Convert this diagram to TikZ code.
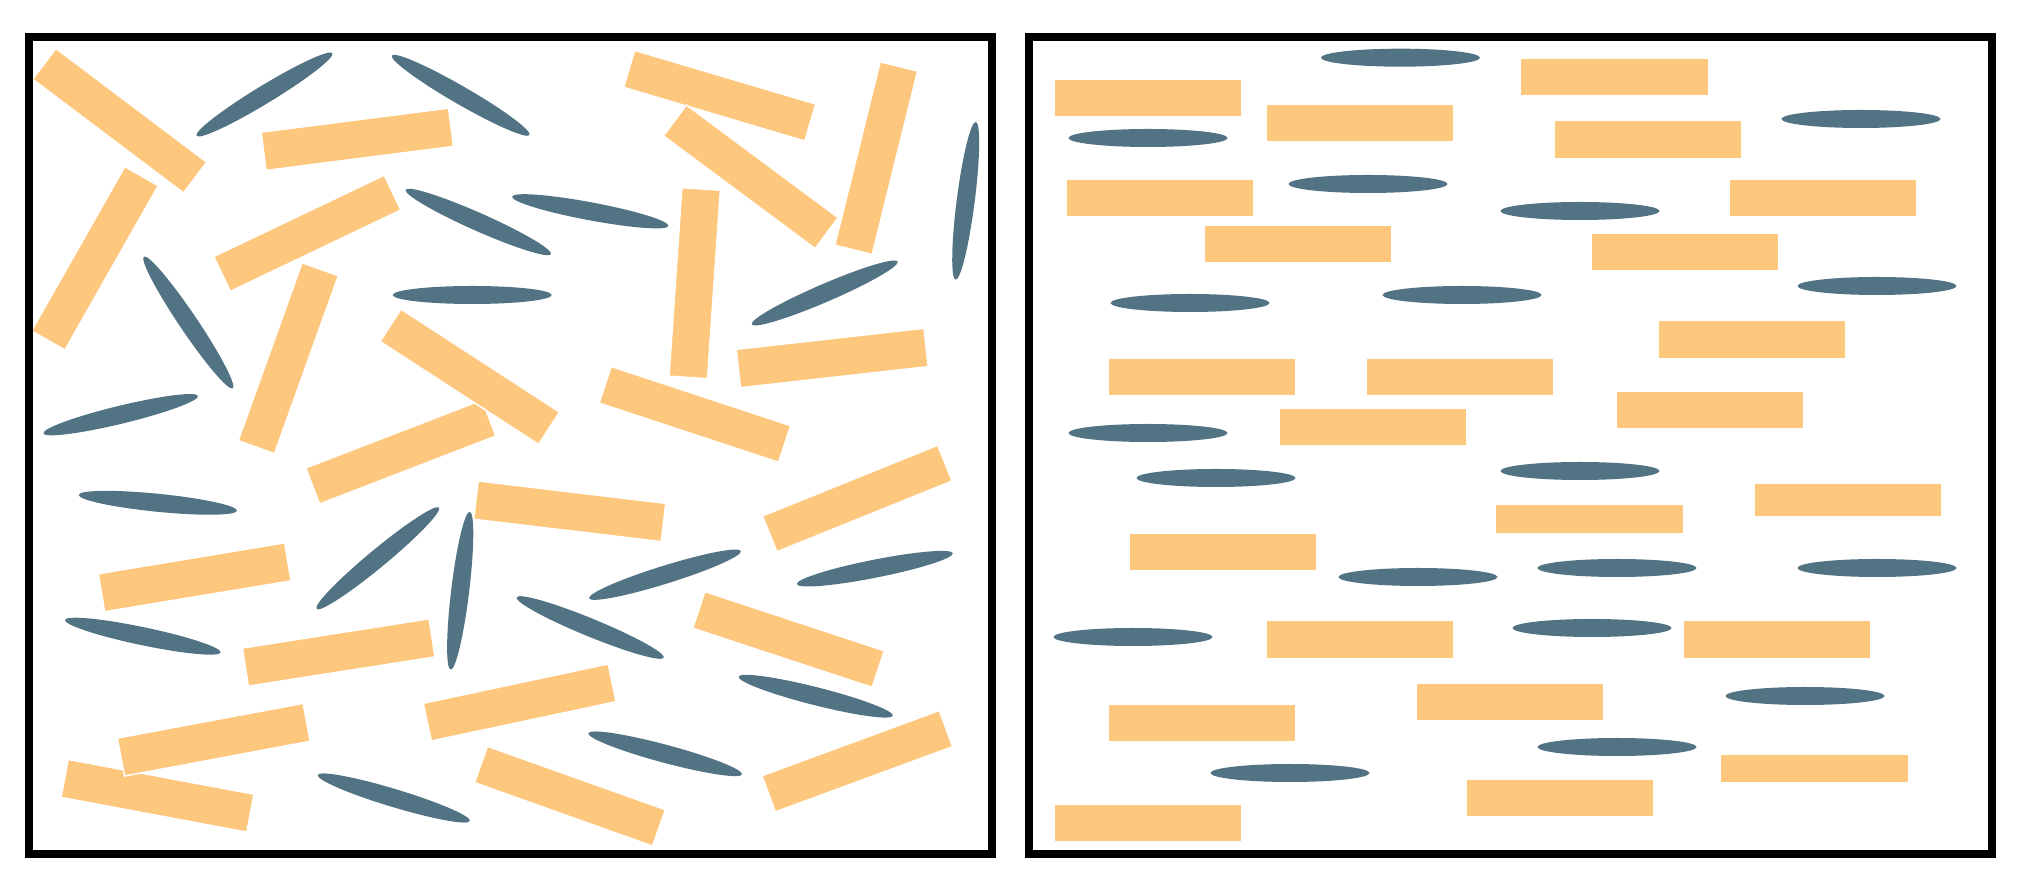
\documentclass[tikz,border=0pt]{standalone}
\usepackage{tikz}

\definecolor{barorange}{RGB}{254,199,126}
\definecolor{rodblue}{RGB}{81,115,132}

\tikzset{
  bar/.style={fill=barorange, draw=white, line width=0.015cm},
  rod/.style={fill=rodblue},
  frame/.style={draw=black, line width=0.08cm}
}

\begin{document}
\begin{tikzpicture}[x=0.01cm,y=-0.01cm]
    \useasboundingbox (0,0) rectangle (2021,883);

    % left box: random orientation
    \fill[bar, shift={(119.7,120.7)}, rotate=-37] (-94.5,-19.3) rectangle (94.5,19.3);
    \fill[bar, shift={(94.9,258.3)}, rotate=60.4] (-94.5,-19.3) rectangle (94.5,19.3);
    \fill[bar, shift={(357.3,139.3)}, rotate=7.3] (-94.5,-19.3) rectangle (94.5,19.3);
    \fill[bar, shift={(307.3,233.3)}, rotate=25.5] (-94.5,-19.3) rectangle (94.5,19.3);
    \fill[bar, shift={(288.3,358.2)}, rotate=70.25] (-94.5,-19.3) rectangle (94.5,19.3);
    \fill[bar, shift={(400.8,452)}, rotate=21.1] (-94.5,-19.3) rectangle (94.5,19.3);
    \fill[bar, shift={(469.8,376.8)}, rotate=-33] (-94.5,-19.3) rectangle (94.5,19.3);
    \fill[bar, shift={(719.7,95.7)}, rotate=-16.5] (-94.5,-19.3) rectangle (94.5,19.3);
    \fill[bar, shift={(750.8,176.8)}, rotate=-36.6] (-94.5,-19.3) rectangle (94.5,19.3);
    \fill[bar, shift={(876.2,158.2)}, rotate=76.1] (-94.5,-19.3) rectangle (94.5,19.3);
    \fill[bar, shift={(694.7,283.2)}, rotate=86.1] (-94.5,-19.3) rectangle (94.5,19.3);
    \fill[bar, shift={(832.2,358)}, rotate=6.4] (-94.5,-19.3) rectangle (94.5,19.3);
    \fill[bar, shift={(694.9,414.4)}, rotate=-18.25] (-94.5,-19.3) rectangle (94.5,19.3);
    \fill[bar, shift={(194.7,577.3)}, rotate=9.4] (-94.5,-19.3) rectangle (94.5,19.3);
    \fill[bar, shift={(569.7,511.3)}, rotate=-6.8] (-94.5,-19.3) rectangle (94.5,19.3);
    \fill[bar, shift={(338.7,652.5)}, rotate=8.9] (-94.5,-19.3) rectangle (94.5,19.3);
    \fill[bar, shift={(157.5,795.8)}, rotate=-10.6] (-94.5,-19.3) rectangle (94.5,19.3);
    \fill[bar, shift={(213.8,739.7)}, rotate=10.6] (-94.5,-19.3) rectangle (94.5,19.3);
    \fill[bar, shift={(857.3,498.5)}, rotate=22] (-94.5,-19.3) rectangle (94.5,19.3);
    \fill[bar, shift={(788.5,639.5)}, rotate=-18.25] (-94.5,-19.3) rectangle (94.5,19.3);
    \fill[bar, shift={(519.7,702.5)}, rotate=12] (-94.5,-19.3) rectangle (94.5,19.3);
    \fill[bar, shift={(857.3,761.2)}, rotate=20.2] (-94.5,-19.3) rectangle (94.5,19.3);
    \fill[bar, shift={(570,796.2)}, rotate=-19.6] (-94.5,-19.3) rectangle (94.5,19.3);

    \fill[rod, shift={(264.5,94.5)}, rotate=31.3] (0,0) ellipse [x radius=79.5, y radius=9];
    \fill[rod, shift={(460.7,95.3)}, rotate=-30] (0,0) ellipse [x radius=79.5, y radius=9];
    \fill[rod, shift={(188.3,322.5)}, rotate=-56] (0,0) ellipse [x radius=79.5, y radius=9];
    \fill[rod, shift={(478.3,222)}, rotate=-23.9] (0,0) ellipse [x radius=79.5, y radius=9];
    \fill[rod, shift={(472.2,295)}, rotate=0] (0,0) ellipse [x radius=79.5, y radius=9];
    \fill[rod, shift={(590.3,211.3)}, rotate=-10.6] (0,0) ellipse [x radius=79.5, y radius=9];
    \fill[rod, shift={(120.7,414.7)}, rotate=13.6] (0,0) ellipse [x radius=79.5, y radius=9];
    \fill[rod, shift={(965.7,200.8)}, rotate=82.7] (0,0) ellipse [x radius=79.5, y radius=9];
    \fill[rod, shift={(824.7,293)}, rotate=23.3] (0,0) ellipse [x radius=79.5, y radius=9];
    \fill[rod, shift={(157.8,502.8)}, rotate=-5.7] (0,0) ellipse [x radius=79.5, y radius=9];
    \fill[rod, shift={(377.8,558.3)}, rotate=39.6] (0,0) ellipse [x radius=79.5, y radius=9];
    \fill[rod, shift={(460.2,590.7)}, rotate=83.1] (0,0) ellipse [x radius=79.5, y radius=9];
    \fill[rod, shift={(142.8,636.2)}, rotate=-11.8] (0,0) ellipse [x radius=79.5, y radius=9];
    \fill[rod, shift={(665,574.7)}, rotate=17.3] (0,0) ellipse [x radius=79.5, y radius=9];
    \fill[rod, shift={(874.8,568.7)}, rotate=11.2] (0,0) ellipse [x radius=79.5, y radius=9];
    \fill[rod, shift={(590.2,627.5)}, rotate=-22.3] (0,0) ellipse [x radius=79.5, y radius=9];
    \fill[rod, shift={(815.7,696.2)}, rotate=-14.2] (0,0) ellipse [x radius=79.5, y radius=9];
    \fill[rod, shift={(665.2,753.8)}, rotate=-15] (0,0) ellipse [x radius=79.5, y radius=9];
    \fill[rod, shift={(393.8,798)}, rotate=-16.8] (0,0) ellipse [x radius=79.5, y radius=9];

    % right box: aligned
    \fill[bar] (1054,79) rectangle (1241.7,116.7);
    \fill[bar] (1266.3,104) rectangle (1454,141.7);
    \fill[bar] (1066.7,179) rectangle (1254,216.7);
    \fill[bar] (1204,225) rectangle (1391.7,262.7);
    \fill[bar] (1108.3,358.3) rectangle (1296,396);
    \fill[bar] (1366.7,358.3) rectangle (1554,396);
    \fill[bar] (1279,408) rectangle (1466.7,445.7);
    \fill[bar] (1520.7,58.3) rectangle (1708.7,96);
    \fill[bar] (1554,120.7) rectangle (1741.7,158.3);
    \fill[bar] (1729,179) rectangle (1916.7,216.7);
    \fill[bar] (1591.3,233.3) rectangle (1779,270.7);
    \fill[bar] (1658.3,320.7) rectangle (1846,358.3);
    \fill[bar] (1616.3,391.3) rectangle (1804,429);
    \fill[bar] (1495.7,504) rectangle (1683.3,533.3);
    \fill[bar] (1129,533.3) rectangle (1316.7,571);
    \fill[bar] (1266.3,620.7) rectangle (1454,658.3);
    \fill[bar] (1416.3,683.3) rectangle (1604,720.7);
    \fill[bar] (1108.3,704) rectangle (1296,741.7);
    \fill[bar] (1466.3,779) rectangle (1654,816.7);
    \fill[bar] (1054,804) rectangle (1241.7,841.7);
    \fill[bar] (1754,483) rectangle (1941.7,516.7);
    \fill[bar] (1683.3,620.7) rectangle (1871,658.3);
    \fill[bar] (1720.7,754) rectangle (1908.3,783);

    \fill[rod] (1400.5,57.7) ellipse [x radius=79.5, y radius=9];
    \fill[rod] (1148,138) ellipse [x radius=79.5, y radius=9];
    \fill[rod] (1368,184) ellipse [x radius=79.5, y radius=9];
    \fill[rod] (1190,303) ellipse [x radius=79.5, y radius=9];
    \fill[rod] (1462,295) ellipse [x radius=79.5, y radius=9];
    \fill[rod] (1148,433) ellipse [x radius=79.5, y radius=9];
    \fill[rod] (1580,211) ellipse [x radius=79.5, y radius=9];
    \fill[rod] (1861,119) ellipse [x radius=79.5, y radius=9];
    \fill[rod] (1877,286) ellipse [x radius=79.5, y radius=9];
    \fill[rod] (1216,478) ellipse [x radius=79.5, y radius=9];
    \fill[rod] (1580,471) ellipse [x radius=79.5, y radius=9];
    \fill[rod] (1418,577) ellipse [x radius=79.5, y radius=9];
    \fill[rod] (1133,637) ellipse [x radius=79.5, y radius=9];
    \fill[rod] (1592,628) ellipse [x radius=79.5, y radius=9];
    \fill[rod] (1290,773) ellipse [x radius=79.5, y radius=9];
    \fill[rod] (1617,568) ellipse [x radius=79.5, y radius=9];
    \fill[rod] (1877,568) ellipse [x radius=79.5, y radius=9];
    \fill[rod] (1805,696) ellipse [x radius=79.5, y radius=9];
    \fill[rod] (1617,747) ellipse [x radius=79.5, y radius=9];

    % frames
    \draw[frame] (29,37.5) rectangle (991.5,854);
    \draw[frame] (1029,37.5) rectangle (1991.5,854);
\end{tikzpicture}
\end{document}
